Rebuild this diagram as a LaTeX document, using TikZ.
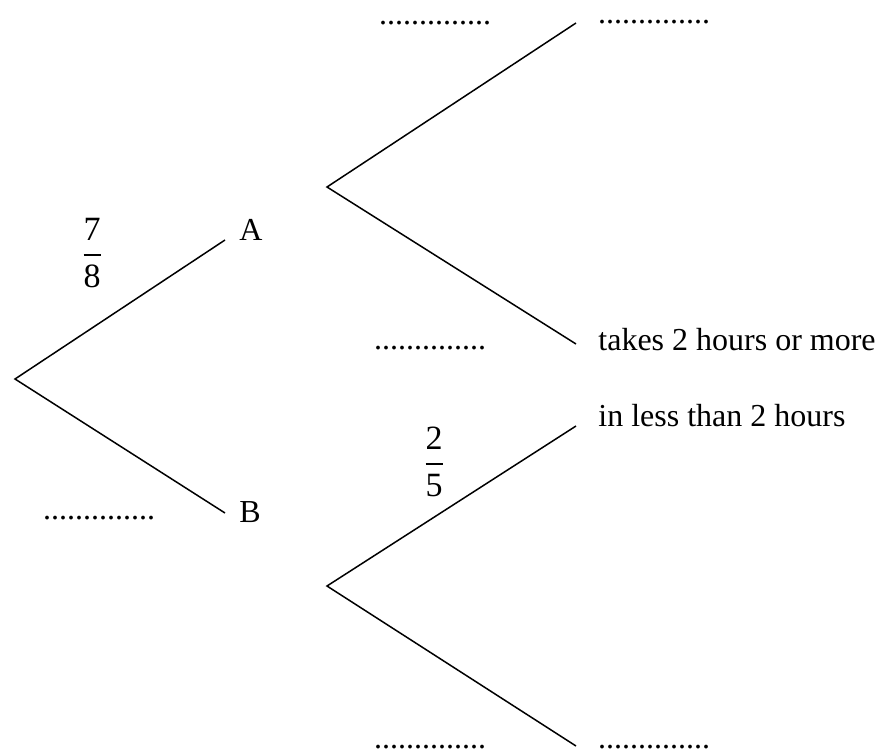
\documentclass[tikz,border=0pt]{standalone}
\usepackage{amsmath}
\usepackage{fontspec}
\setmainfont{Liberation Serif}
\newcommand{\gap}{..............}
\newcommand{\pfrac}[2]{$\genfrac{}{}{0.9pt}{0}{\text{#1}}{\text{#2}}$}
\tikzset{
  branch/.style={line width=0.75pt},
  lbl/.style={inner sep=0pt, font=\fontsize{16}{19}\selectfont},
  blank/.style={lbl, anchor=base},
  prob/.style={inner sep=0pt, font=\fontsize{17}{20}\selectfont}
}
\begin{document}
\begin{tikzpicture}[x=0.5pt, y=-0.5pt]
  \useasboundingbox (0,0) rectangle (881,754);
  % Branch points
  \coordinate (root) at (15,379);
  \coordinate (a) at (225,240);
  \coordinate (b) at (225,513);
  \coordinate (up) at (327,187);
  \coordinate (uptop) at (576,23);
  \coordinate (upbot) at (576,344);
  \coordinate (lo) at (327,586);
  \coordinate (lotop) at (576,426);
  \coordinate (lobot) at (576,746);
  % First stage
  \draw[branch] (a) -- (root) -- (b);
  % Second stage
  \foreach \v in {up,lo}{
    \draw[branch] (\v top) -- (\v) -- (\v bot);
  }
  % Outcomes
  \node[lbl, anchor=base west] (labA) at (239,240) {A};
  \node[lbl, anchor=base west] (labB) at (239,522) {B};
  \node[lbl, anchor=base west] (slow) at (598,350) {takes 2 hours or more};
  \node[lbl, anchor=base west] (fast) at (598,426) {in less than 2 hours};
  % Given probabilities
  \node[prob] (pA) at (92,253) {\pfrac{7}{8}};
  \node[prob] (pfast) at (434,462) {\pfrac{2}{5}};
  % Blanks to fill in
  \foreach \name/\x/\y in {pB/99/519, pupA/435/25, pupB/654/24,
                           pslow/430/349, plow/430/748, plowB/654/748}{
    \node[blank] (\name) at (\x,\y) {\gap};
  }
\end{tikzpicture}
\end{document}
